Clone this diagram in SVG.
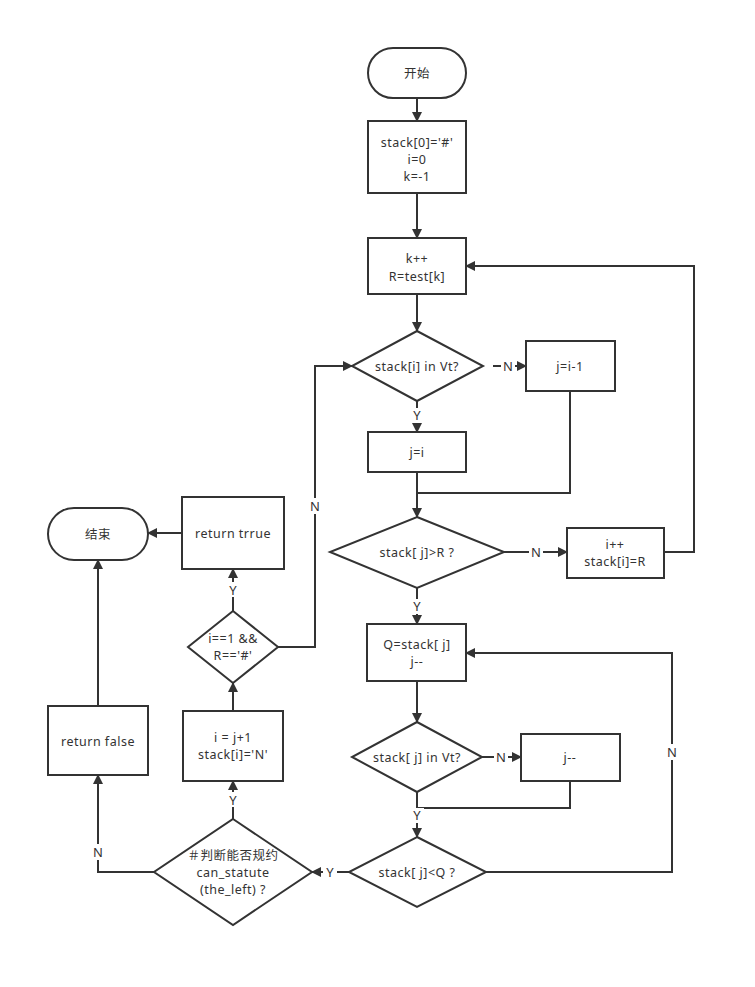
<svg xmlns="http://www.w3.org/2000/svg" width="755" height="987" viewBox="0 0 755 987">
<defs>
<marker id="arr" markerWidth="10" markerHeight="10" refX="9" refY="5" orient="auto" markerUnits="userSpaceOnUse" viewBox="0 0 10 10">
<path d="M0,0 L10,5 L0,10 Z" fill="#333"/>
</marker>
<style>
.n{fill:#fff;stroke:#333;stroke-width:2}
.t{font-family:"Noto Sans","Noto Sans CJK SC",sans-serif;font-size:12.5px;letter-spacing:0.5px;fill:#333;text-anchor:middle;dominant-baseline:central}
.c{fill:none;stroke:#333;stroke-width:2}
.l{font-family:"Noto Sans","Noto Sans CJK SC",sans-serif;font-size:13px;fill:#333;text-anchor:middle;dominant-baseline:central}
</style>
</defs>
<rect width="755" height="987" fill="#fff"/>
<g id="connectors">
<path class="c" d="M417,98 V121" marker-end="url(#arr)"/>
<path class="c" d="M417,193 V238" marker-end="url(#arr)"/>
<path class="c" d="M417,294 V331" marker-end="url(#arr)"/>
<path class="c" d="M493,366 H526" marker-end="url(#arr)"/>
<path class="c" d="M417,401 V432" marker-end="url(#arr)"/>
<path class="c" d="M417,472 V517" marker-end="url(#arr)"/>
<path class="c" d="M570,391 V493 H417"/>
<path class="c" d="M504,552 H567" marker-end="url(#arr)"/>
<path class="c" d="M664,552 H694 V266 H466" marker-end="url(#arr)"/>
<path class="c" d="M417,588 V624" marker-end="url(#arr)"/>
<path class="c" d="M417,681 V722" marker-end="url(#arr)"/>
<path class="c" d="M482,757 H521" marker-end="url(#arr)"/>
<path class="c" d="M417,792 V837" marker-end="url(#arr)"/>
<path class="c" d="M570,781 V808 H417"/>
<path class="c" d="M486,872 H672 V653 H466" marker-end="url(#arr)"/>
<path class="c" d="M349,872 H312" marker-end="url(#arr)"/>
<path class="c" d="M233,819 V781" marker-end="url(#arr)"/>
<path class="c" d="M233,711 V683" marker-end="url(#arr)"/>
<path class="c" d="M233,611 V569" marker-end="url(#arr)"/>
<path class="c" d="M278,647 H315 V366 H352" marker-end="url(#arr)"/>
<path class="c" d="M182,533 H148" marker-end="url(#arr)"/>
<path class="c" d="M154,872 H98 V775" marker-end="url(#arr)"/>
<path class="c" d="M98,706 V560" marker-end="url(#arr)"/>
<g>
<rect x="501" y="358" width="14" height="16" fill="#fff"/><text class="l" x="508" y="366">N</text>
<rect x="410" y="408" width="14" height="15" fill="#fff"/><text class="l" x="417" y="415">Y</text>
<rect x="529" y="544" width="14" height="16" fill="#fff"/><text class="l" x="536" y="552">N</text>
<rect x="410" y="599" width="14" height="15" fill="#fff"/><text class="l" x="417" y="606">Y</text>
<rect x="494" y="749" width="14" height="16" fill="#fff"/><text class="l" x="501" y="757">N</text>
<rect x="410" y="808" width="14" height="15" fill="#fff"/><text class="l" x="417" y="815">Y</text>
<rect x="665" y="744" width="14" height="16" fill="#fff"/><text class="l" x="672" y="752">N</text>
<rect x="323" y="864" width="14" height="16" fill="#fff"/><text class="l" x="330" y="872">Y</text>
<rect x="226" y="792" width="14" height="15" fill="#fff"/><text class="l" x="233" y="800">Y</text>
<rect x="226" y="582" width="14" height="15" fill="#fff"/><text class="l" x="233" y="590">Y</text>
<rect x="308" y="498" width="14" height="16" fill="#fff"/><text class="l" x="315" y="506">N</text>
<rect x="91" y="844" width="14" height="16" fill="#fff"/><text class="l" x="98" y="852">N</text>
</g>
</g>
<g id="start"><rect class="n" x="368" y="48" width="98" height="50" rx="25"/><text class="t" x="417" y="73">开始</text></g>
<g id="init"><rect class="n" x="368" y="121" width="98" height="72"/><text class="t" x="417" y="142">stack[0]='#'</text><text class="t" x="417" y="159">i=0</text><text class="t" x="417" y="176">k=-1</text></g>
<g id="kpp"><rect class="n" x="368" y="238" width="98" height="56"/><text class="t" x="417" y="258">k++</text><text class="t" x="417" y="276">R=test[k]</text></g>
<g id="d1"><polygon class="n" points="417,331 483,366 417,401 352,366"/><text class="t" x="417" y="366">stack[i] in Vt?</text></g>
<g id="ji1"><rect class="n" x="526" y="341" width="89" height="50"/><text class="t" x="570" y="366">j=i-1</text></g>
<g id="ji"><rect class="n" x="368" y="432" width="98" height="40"/><text class="t" x="417" y="452">j=i</text></g>
<g id="d2"><polygon class="n" points="417,517 504,552 417,588 330,552"/><text class="t" x="417" y="552">stack[ j]&gt;R ?</text></g>
<g id="ipp"><rect class="n" x="567" y="528" width="97" height="50"/><text class="t" x="615" y="544.5">i++</text><text class="t" x="615" y="561.5">stack[i]=R</text></g>
<g id="q"><rect class="n" x="367" y="624" width="99" height="57"/><text class="t" x="417" y="644">Q=stack[ j]</text><text class="t" x="417" y="661">j--</text></g>
<g id="d3"><polygon class="n" points="417,722 482,757 417,792 352,757"/><text class="t" x="417" y="757">stack[ j] in Vt?</text></g>
<g id="jmm"><rect class="n" x="521" y="734" width="99" height="47"/><text class="t" x="570" y="757">j--</text></g>
<g id="d4"><polygon class="n" points="417,837 486,872 417,907 349,872"/><text class="t" x="417" y="872">stack[ j]&lt;Q ?</text></g>
<g id="d5"><polygon class="n" points="233,819 312,872 233,925 154,872"/><text class="t" x="233" y="855">＃判断能否规约</text><text class="t" x="233" y="872">can_statute</text><text class="t" x="233" y="889">(the_left) ?</text></g>
<g id="ij1"><rect class="n" x="183" y="711" width="100" height="70"/><text class="t" x="233" y="737.5">i = j+1</text><text class="t" x="233" y="754.5">stack[i]='N'</text></g>
<g id="rf"><rect class="n" x="48" y="706" width="100" height="69"/><text class="t" x="98" y="741">return false</text></g>
<g id="d6"><polygon class="n" points="233,611 278,647 233,683 188,647"/><text class="t" x="233" y="638.5">i==1 &amp;&amp;</text><text class="t" x="233" y="655.5">R=='#'</text></g>
<g id="rt"><rect class="n" x="182" y="497" width="102" height="72"/><text class="t" x="233" y="533">return trrue</text></g>
<g id="end"><rect class="n" x="48" y="508" width="100" height="52" rx="26"/><text class="t" x="98" y="534">结束</text></g>
</svg>
